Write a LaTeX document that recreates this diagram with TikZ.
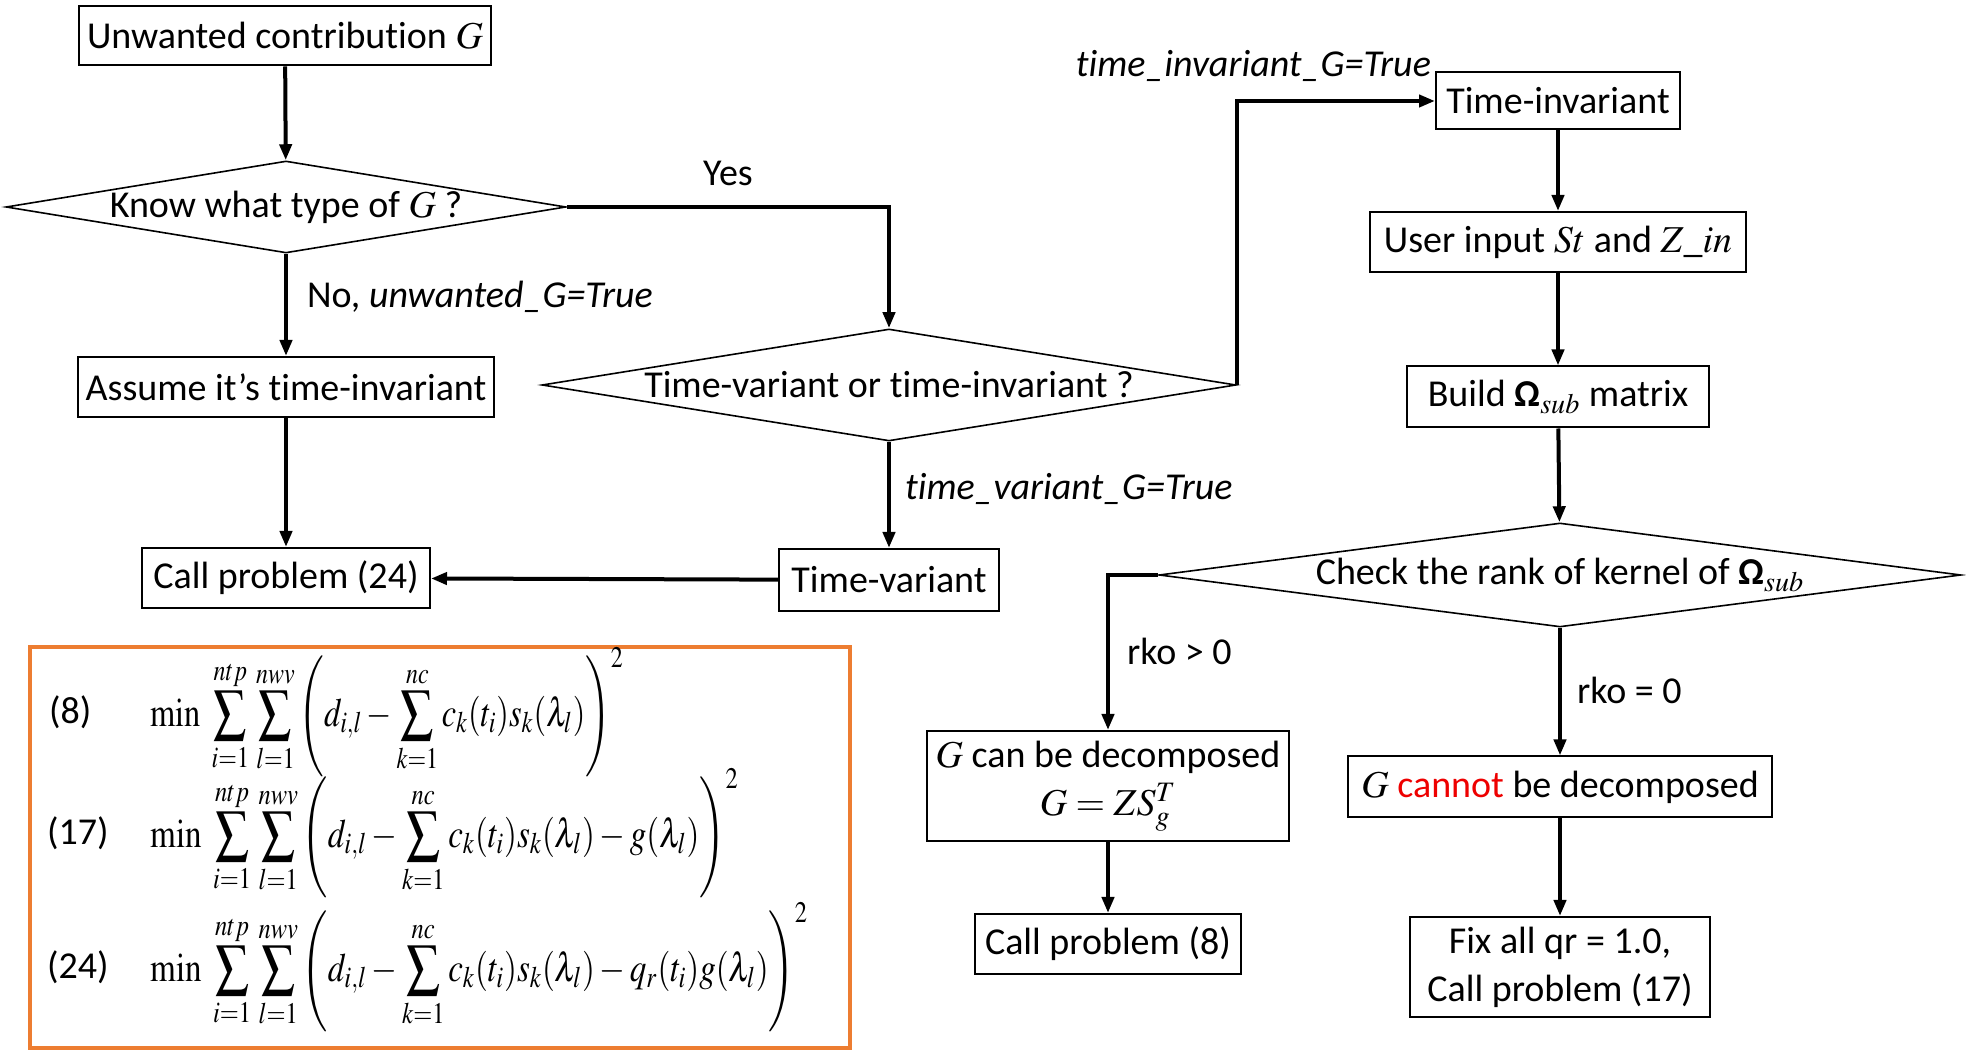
\documentclass[tikz,border=0pt]{standalone}
\usepackage{mathptmx}
\usepackage[no-math]{fontspec}
\setmainfont{Carlito}[Ligatures=NoCommon]
\usepackage{tikz}
\usetikzlibrary{shapes,shapes.geometric}
\usetikzlibrary{arrows,arrows.meta}
\definecolor{frameorange}{RGB}{237,125,49}
\definecolor{notred}{RGB}{238,0,0}

\begin{document}
\begin{tikzpicture}[x=0.5pt, y=-0.5pt, font=\fontsize{19}{23}\selectfont,
	box/.style={draw, line width=1pt, inner sep=2pt, align=center},
	decision/.style={draw, diamond, line width=0.8pt, inner sep=0pt, aspect=6},
	flow/.style={line width=2pt, -{Triangle[length=8pt,width=6pt]}},
	eqn/.style={anchor=west, inner sep=0pt, font=\fontsize{18}{22}\selectfont}]
	\useasboundingbox (0,0) rectangle (1966,1052);
	% left column
	\node[box, minimum width=206pt, minimum height=29.5pt] (unw) at (285,36) {Unwanted contribution $G$};
	\node[decision, minimum width=280pt, minimum height=46pt] (know) at (286,207) {Know what type of $G$ ?};
	\node[box, minimum width=208pt, minimum height=30pt] (assume) at (286,387) {Assume it’s time-invariant};
	\node[box, minimum width=144pt, minimum height=30pt] (call24) at (286,578) {Call problem (24)};
	% middle column
	\node[decision, minimum width=347pt, minimum height=56pt] (tvq) at (889,385) {Time-variant or time-invariant ?};
	\node[box, minimum width=110pt, minimum height=31pt] (tv) at (889,580) {Time-variant};
	% right column
	\node[box, minimum width=122pt, minimum height=28.5pt] (ti) at (1558,101) {Time-invariant};
	\node[box, minimum width=188pt, minimum height=30pt] (user) at (1558,242) {User input $St$ and $Z\_in$};
	\node[box, minimum width=151pt, minimum height=30.5pt] (build) at (1558,397) {Build \textbf{Ω}$_{sub}$ matrix};
	\node[decision, aspect=7.7, minimum width=401pt, minimum height=52pt] (rank) at (1560,575) {Check the rank of kernel of \textbf{Ω}$_{sub}$};
	\node[box, minimum width=181pt, minimum height=55pt] (gcan) at (1108,786) {$G$ can be decomposed\\[1pt] $G=ZS_g^T$};
	\node[box, minimum width=133pt, minimum height=30pt] (call8) at (1108,944) {Call problem (8)};
	\node[box, minimum width=212pt, minimum height=30.5pt] (gnot) at (1560,787) {$G$ \textcolor{notred}{cannot} be decomposed};
	\node[box, minimum width=150pt, minimum height=50pt] (fix) at (1560,967) {Fix all qr = 1.0,\\[1pt] Call problem (17)};
	% connectors
	\draw[flow] (unw) -- (know);
	\draw[flow] (know) -- (assume);
	\draw[flow] (assume) -- (call24);
	\draw[flow] (know.east) -| (tvq.north);
	\draw[flow] (tvq) -- (tv);
	\draw[flow] (tv) -- (call24);
	\draw[flow] (tvq.east) |- (ti.west);
	\draw[flow] (ti) -- (user);
	\draw[flow] (user) -- (build);
	\draw[flow] (build) -- (rank);
	\draw[flow] (rank.west) -| (gcan.north);
	\draw[flow] (rank) -- (gnot);
	\draw[flow] (gcan) -- (call8);
	\draw[flow] (gnot) -- (fix);
	% labels
	\node (yes) at (728,173) {Yes};
	\node[anchor=west] (nolab) at (300,297) {No, \textit{unwanted\_G=True}};
	\node[anchor=west] (tvlab) at (898,489) {\textit{time\_variant\_G=True}};
	\node[anchor=east] (tilab) at (1438,66) {\textit{time\_invariant\_G=True}};
	\node[anchor=west] (rgt) at (1120,651) {rko > 0};
	\node[anchor=west] (req) at (1570,690) {rko = 0};
	% problems
	\draw[frameorange, line width=2pt] (30,647) rectangle (850,1048);
	\node[anchor=west] (p8) at (42,712) {(8)};
	\node[anchor=west] (p17) at (40,833) {(17)};
	\node[anchor=west] (p24) at (40,967) {(24)};
	\node[eqn] (e8) at (150,712) {\scalebox{0.9}[1.12]{$\displaystyle \min\ \sum_{i=1}^{ntp}\,\sum_{l=1}^{nwv}\left(d_{i,l}-\sum_{k=1}^{nc}c_k(t_i)s_k(\lambda_l)\right)^{2}$}};
	\node[eqn] (e17) at (150,833) {\scalebox{0.92}[1.12]{$\displaystyle \min\ \sum_{i=1}^{ntp}\,\sum_{l=1}^{nwv}\left(d_{i,l}-\sum_{k=1}^{nc}c_k(t_i)s_k(\lambda_l)-g(\lambda_l)\right)^{2}$}};
	\node[eqn] (e24) at (150,967) {\scalebox{0.92}[1.12]{$\displaystyle \min\ \sum_{i=1}^{ntp}\,\sum_{l=1}^{nwv}\left(d_{i,l}-\sum_{k=1}^{nc}c_k(t_i)s_k(\lambda_l)-q_r(t_i)g(\lambda_l)\right)^{2}$}};
\end{tikzpicture}
\end{document}
